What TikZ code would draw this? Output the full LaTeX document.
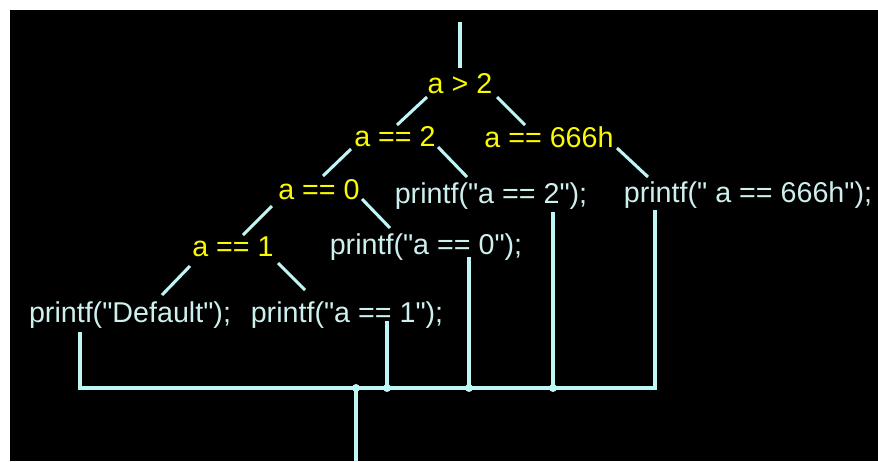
\documentclass[tikz,border=0pt]{standalone}
\usepackage{fontspec}
\newfontfamily\codefont{Liberation Sans}
\usetikzlibrary{calc}
\definecolor{wirecyan}{RGB}{190,245,245}
\definecolor{condyellow}{RGB}{250,250,0}
\definecolor{calltext}{RGB}{205,240,238}

\begin{document}
\begin{tikzpicture}[x=0.75pt, y=-0.75pt,
  cond/.style={text=condyellow, inner sep=0pt, font=\codefont\fontsize{21.5}{24}\selectfont},
  call/.style={text=calltext, inner sep=0pt, font=\codefont\fontsize{21.5}{24}\selectfont},
  wire/.style={draw=wirecyan, line width=2.3pt},
  joint/.style={circle, fill=wirecyan, inner sep=0pt, minimum size=6pt}]
  % background
  \useasboundingbox (0,0) rectangle (878,461);
  \fill[white] (0,0) rectangle (878,461);
  \fill[black] (10,10) rectangle (878,461);

  % conditions
  \node[cond] (gt2) at (460,84) {a > 2};
  \node[cond] (eq2) at (395,137) {a == 2};
  \node[cond] (eq666) at (549,137) {a == 666h};
  \node[cond] (eq0) at (319,190) {a == 0};
  \node[cond] (eq1) at (233,247) {a == 1};

  % calls
  \node[call] (p2) at (491,196) {printf("a == 2");};
  \node[call] (p666) at (748,195) {printf(" a == 666h");};
  \node[call] (p0) at (426,247) {printf("a == 0");};
  \node[call] (pdef) at (130,315) {printf("Default");};
  \node[call] (p1) at (347,315) {printf("a == 1");};

  \coordinate (entry) at (460,22);
  \coordinate (exit) at (356,461);

  % branches
  \draw[wire] (entry) -- ($(gt2)+(0,-16)$);
  \draw[wire] ($(gt2)+(-33,13)$) -- ($(eq2)+(2,-12)$);
  \draw[wire] ($(gt2)+(37,13)$) -- ($(eq666)+(-24,-12)$);
  \draw[wire] ($(eq2)+(-44,12)$) -- ($(eq0)+(4,-14)$);
  \draw[wire] ($(eq2)+(43,10)$) -- ($(p2)+(-24,-19)$);
  \draw[wire] ($(eq666)+(68,11)$) -- ($(p666)+(-100,-18)$);
  \draw[wire] ($(eq0)+(-47,16)$) -- ($(eq1)+(10,-12)$);
  \draw[wire] ($(eq0)+(43,9)$) -- ($(p0)+(-36,-19)$);
  \draw[wire] ($(eq1)+(-43,19)$) -- ($(pdef)+(32,-20)$);
  \draw[wire] ($(eq1)+(45,16)$) -- ($(p1)+(-42,-25)$);

  % merge
  \node[joint] (j0) at (356,388) {};
  \node[joint] (j1) at (387,388) {};
  \node[joint] (j2) at (469,388) {};
  \node[joint] (j3) at (553,388) {};
  \draw[wire] ($(pdef)+(-50,17)$) |- (j0.center) -- (j3.center) -| ($(p666)+(-93,15)$);
  \draw[wire] ($(p1)+(40,6)$) -- (j1.center);
  \draw[wire] ($(p0)+(43,10)$) -- (j2.center);
  \draw[wire] ($(p2)+(62,16)$) -- (j3.center);
  \draw[wire] (j0.center) -- (exit);
\end{tikzpicture}
\end{document}
